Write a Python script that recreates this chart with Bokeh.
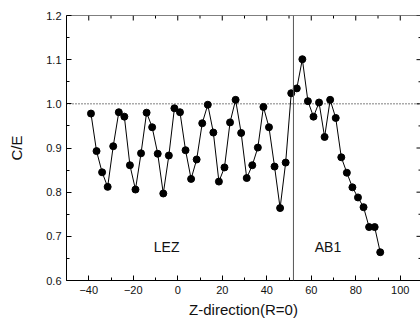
from bokeh.plotting import figure
from bokeh.models import Span, Label, FixedTicker, NumeralTickFormatter, Range1d, ColumnDataSource
from bokeh.embed import file_html
from bokeh.resources import INLINE

# ---- data ----
z_pos = [-39, -36.5, -34, -31.5, -29, -26.5, -24, -21.5, -19, -16.5,
         -14, -11.5, -9, -6.5, -4, -1.5, 1, 3.5, 6, 8.5,
         11, 13.5, 16, 18.5, 21, 23.5, 26, 28.5, 31, 33.5,
         36, 38.5, 41, 43.5, 46, 48.5, 51, 53.5, 56, 58.5,
         61, 63.5, 66, 68.5, 71, 73.5, 76, 78.5, 81, 83.5,
         86, 88.5, 91]
ce = [0.978, 0.893, 0.845, 0.812, 0.904, 0.981, 0.971, 0.861, 0.806, 0.888,
      0.980, 0.947, 0.887, 0.797, 0.883, 0.990, 0.981, 0.895, 0.830, 0.874,
      0.956, 0.998, 0.935, 0.824, 0.856, 0.958, 1.009, 0.934, 0.832, 0.861,
      0.901, 0.993, 0.947, 0.858, 0.764, 0.867, 1.024, 1.035, 1.101, 1.006,
      0.971, 1.003, 0.925, 1.009, 0.968, 0.879, 0.844, 0.811, 0.788, 0.766,
      0.721, 0.721, 0.664]
x_ticks = [-40, -20, 0, 20, 40, 60, 80, 100]
x_minor = [-50, -30, -10, 10, 30, 50, 70, 90]
y_ticks = [0.6, 0.7, 0.8, 0.9, 1.0, 1.1, 1.2]
y_minor = [0.65, 0.75, 0.85, 0.95, 1.05, 1.15]
reference_ce = 1.0
boundary_z = 52
region_names = ["LEZ", "AB1"]
region_x = [-5, 67.5]
region_y = [0.675, 0.675]
x_title = "Z-direction(R=0)"
y_title = "C/E"

X0, X1 = -50, 109.1
Y0, Y1 = 0.6, 1.2
FONT = "Liberation Sans"

p = figure(width=420, height=320, output_backend="svg", toolbar_location=None,
           x_range=Range1d(X0, X1), y_range=Range1d(Y0, Y1),
           x_axis_label=x_title, y_axis_label=y_title,
           min_border_left=66, min_border_right=0, min_border_top=15, min_border_bottom=40)
p.outline_line_color = None
p.grid.visible = False
p.background_fill_color = "white"

for ax in (p.xaxis[0], p.yaxis[0]):
    ax.axis_line_color = "black"
    ax.axis_line_width = 1
    ax.major_tick_in = 5
    ax.major_tick_out = 0
    ax.minor_tick_in = 3
    ax.minor_tick_out = 0
    ax.major_tick_line_color = "black"
    ax.minor_tick_line_color = "black"
    ax.major_label_text_font = FONT
    ax.major_label_text_font_size = "11px"
    ax.major_label_text_color = "#111111"
    ax.axis_label_text_font = FONT
    ax.axis_label_text_font_style = "normal"
    ax.axis_label_text_font_size = "15px"
    ax.axis_label_text_color = "#111111"

p.xaxis[0].ticker = FixedTicker(ticks=x_ticks, minor_ticks=x_minor)
p.yaxis[0].ticker = FixedTicker(ticks=y_ticks, minor_ticks=y_minor)
p.yaxis[0].formatter = NumeralTickFormatter(format="0.0")
p.xaxis[0].major_label_standoff = 5
p.xaxis[0].axis_label_standoff = 4
p.yaxis[0].major_label_standoff = 5
p.yaxis[0].axis_label_standoff = 18

# top border with inward ticks, right-side inward ticks
px_x = (X1 - X0) / 354.0
px_y = (Y1 - Y0) / 265.0
p.add_layout(Span(location=Y1, dimension="width", line_color="black", line_width=1))
p.segment(x0=x_ticks, y0=[Y1] * len(x_ticks), x1=x_ticks, y1=[Y1 - 5 * px_y] * len(x_ticks),
          line_color="black", line_width=1)
p.segment(x0=x_minor, y0=[Y1] * len(x_minor), x1=x_minor, y1=[Y1 - 3 * px_y] * len(x_minor),
          line_color="black", line_width=1)
p.segment(x0=[X1] * len(y_ticks), y0=y_ticks, x1=[X1 - 4 * px_x] * len(y_ticks), y1=y_ticks,
          line_color="black", line_width=1)
p.segment(x0=[X1] * len(y_minor), y0=y_minor, x1=[X1 - 2 * px_x] * len(y_minor), y1=y_minor,
          line_color="black", line_width=1)

p.add_layout(Span(location=reference_ce, dimension="width", line_color="black",
                  line_width=1, line_dash="1 2"))
p.add_layout(Span(location=boundary_z, dimension="height", line_color="#555555",
                  line_width=1))

src = ColumnDataSource(dict(z=z_pos, ce=ce))
p.line("z", "ce", source=src, line_color="black", line_width=1)
p.scatter("z", "ce", source=src, size=7, fill_color="black", line_color="black")

for name, lx, ly in zip(region_names, region_x, region_y):
    p.add_layout(Label(x=lx, y=ly, text=name, text_font=FONT, text_font_size="14px",
                       text_align="center", text_baseline="middle", text_color="#111111"))

open("out.html", "w").write(file_html(p, INLINE))
